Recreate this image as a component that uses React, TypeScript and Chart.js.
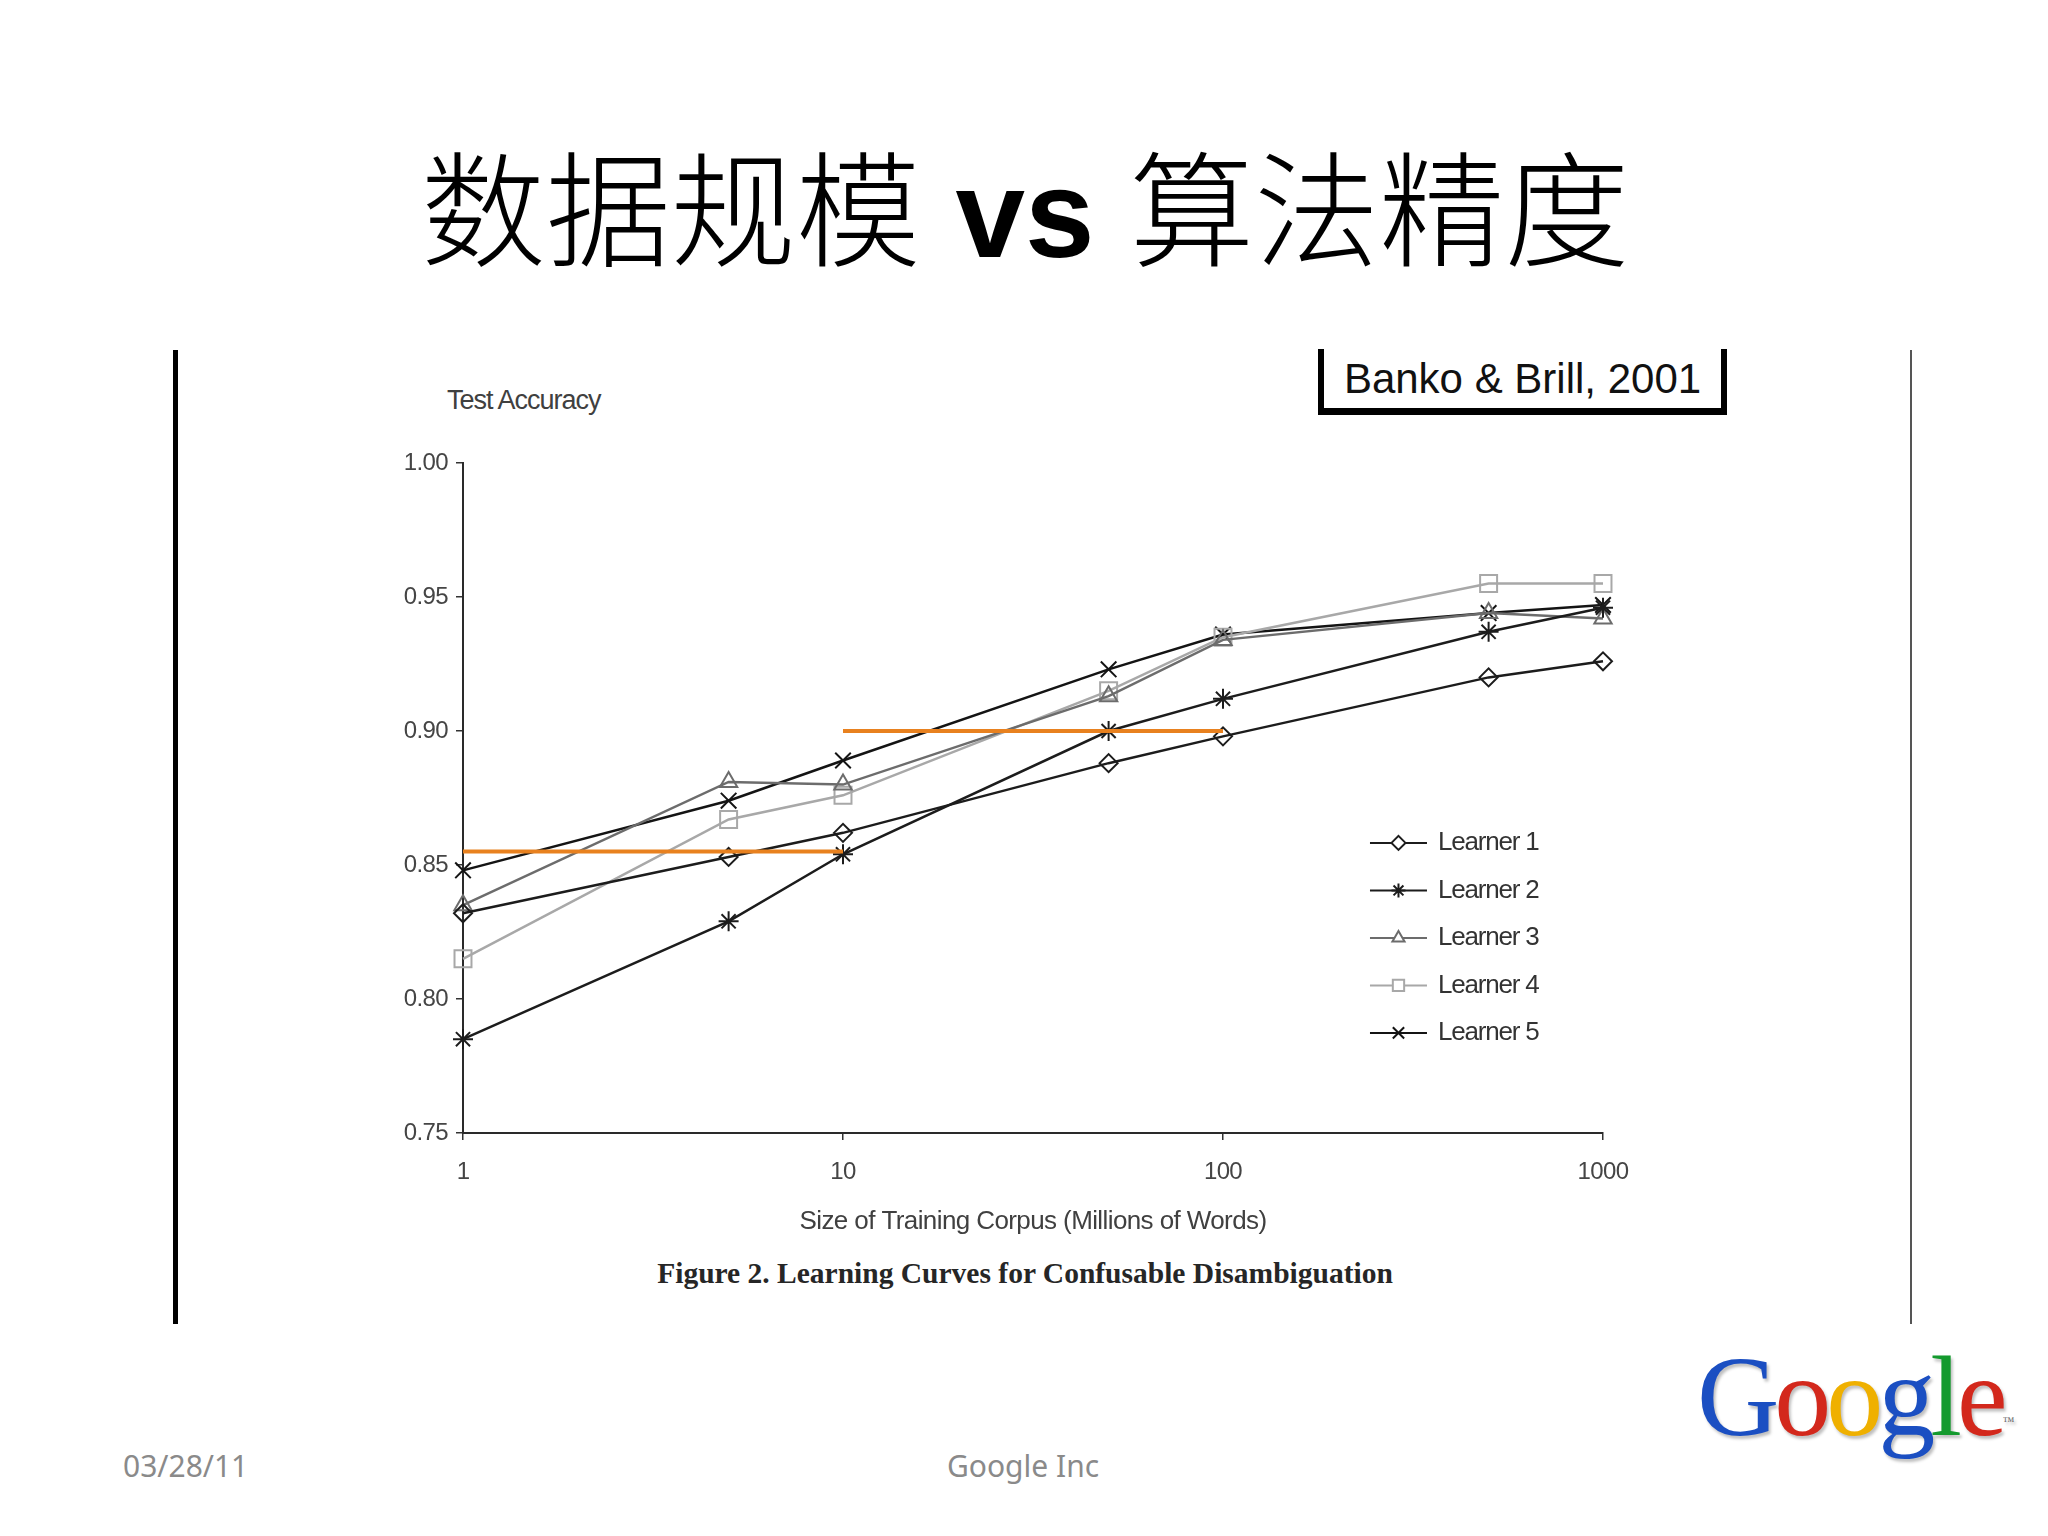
import React, { useEffect, useRef } from "react";
import { Chart, registerables } from "chart.js";
import { drawPoint } from "chart.js/helpers";

Chart.register(...registerables);

// ---- data ----
const corpusSizes = [1, 5, 10, 50, 100, 500, 1000];
const learner1 = [0.832, 0.853, 0.862, 0.888, 0.898, 0.92, 0.926];
const learner2 = [0.785, 0.829, 0.854, 0.9, 0.912, 0.937, 0.946];
const learner3 = [0.835, 0.881, 0.88, 0.913, 0.934, 0.944, 0.942];
const learner4 = [0.815, 0.867, 0.876, 0.915, 0.935, 0.955, 0.955];
const learner5 = [0.848, 0.874, 0.889, 0.923, 0.936, 0.944, 0.947];
const seriesNames = ["Learner 1", "Learner 2", "Learner 3", "Learner 4", "Learner 5"];
const xTickValues = [1, 10, 100, 1000];
const yMin = 0.75;
const yMax = 1.0;
const yStep = 0.05;
const refLowX = [1, 10];
const refLowY = [0.855, 0.855];
const refHighX = [10, 100];
const refHighY = [0.9, 0.9];

const yAxisTitle = "Test Accuracy";
const xAxisTitle = "Size of Training Corpus (Millions of Words)";
const captionText = "Figure 2. Learning Curves for Confusable Disambiguation";
const citationText = "Banko & Brill, 2001";
const footerDate = "03/28/11";
const footerCenter = "Google Inc";

const toPoints = (xs: number[], ys: number[]) => xs.map((x, i) => ({ x, y: ys[i] }));

const learnerStyles = [
  { color: "#1c1c1c", pointStyle: "rectRot", radius: 9, legendRadius: 7 },
  { color: "#1c1c1c", pointStyle: "star", radius: 10, legendRadius: 7 },
  { color: "#6c6c6c", pointStyle: "triangle", radius: 10, legendRadius: 7 },
  { color: "#a8a8a8", pointStyle: "rect", radius: 12, legendRadius: 8 },
  { color: "#141414", pointStyle: "crossRot", radius: 11, legendRadius: 8 },
];

const legendPlugin = {
  id: "learnerLegend",
  beforeDraw(chart: any) {
    chart.ctx.letterSpacing = "-0.6px";
  },
  afterDatasetsDraw(chart: any) {
    const { ctx, chartArea: a } = chart;
    const w = a.right - a.left;
    const h = a.bottom - a.top;
    const lx = a.left + 0.7956 * w;
    const lineLen = 57;
    const top = a.top + 0.567 * h;
    const step = 0.0709 * h;
    ctx.save();
    chart.data.datasets.forEach((ds: any) => {
      if (ds.legendRow === undefined) return;
      const y = top + ds.legendRow * step;
      ctx.strokeStyle = ds.borderColor;
      ctx.lineWidth = 2;
      ctx.beginPath();
      ctx.moveTo(lx, y);
      ctx.lineTo(lx + lineLen, y);
      ctx.stroke();
      ctx.fillStyle = "#ffffff";
      ctx.strokeStyle = ds.borderColor;
      ctx.lineWidth = 2;
      drawPoint(
        ctx,
        { pointStyle: ds.pointStyle, radius: ds.legendRadius, rotation: 0, borderWidth: 2 } as any,
        lx + lineLen / 2,
        y
      );
      ctx.fillStyle = "#333333";
      ctx.font = '26px "Liberation Sans"';
      ctx.letterSpacing = "-1.2px";
      ctx.textBaseline = "middle";
      ctx.textAlign = "left";
      ctx.fillText(ds.label, lx + lineLen + 11, y);
    });
    ctx.restore();
  },
};

function LearningChart() {
  const ref = useRef<HTMLCanvasElement>(null);
  useEffect(() => {
    if (!ref.current) return;
    const learners = [learner1, learner2, learner3, learner4, learner5];
    const datasets: any[] = [
      {
        label: "ref-low",
        data: toPoints(refLowX, refLowY),
        borderColor: "#e8811f",
        borderWidth: 4,
        pointRadius: 0,
        clip: false,
      },
      {
        label: "ref-high",
        data: toPoints(refHighX, refHighY),
        borderColor: "#e8811f",
        borderWidth: 4,
        pointRadius: 0,
        clip: false,
      },
    ];
    learners.forEach((vals, i) => {
      const st = learnerStyles[i];
      datasets.push({
        label: seriesNames[i],
        legendRow: i,
        legendRadius: st.legendRadius,
        data: toPoints(corpusSizes, vals),
        borderColor: st.color,
        borderWidth: 2.5,
        pointStyle: st.pointStyle,
        pointRadius: st.radius,
        pointBorderColor: st.color,
        pointBackgroundColor: "rgba(255,255,255,0)",
        pointBorderWidth: 2,
        tension: 0,
        clip: false,
      });
    });
    const chart = new Chart(ref.current, {
      type: "line",
      data: { datasets },
      plugins: [legendPlugin],
      options: {
        animation: false,
        responsive: true,
        maintainAspectRatio: false,
        layout: { padding: { top: 23, right: 60, bottom: 0, left: 0 } },
        plugins: { legend: { display: false }, tooltip: { enabled: false } },
        scales: {
          x: {
            type: "logarithmic",
            min: 1,
            max: 1000,
            afterBuildTicks: (scale: any) => {
              scale.ticks = xTickValues.map((v) => ({ value: v }));
            },
            afterFit: (scale: any) => {
              scale.height = 117;
            },
            ticks: {
              callback: (v: any) => String(v),
              color: "#454545",
              font: { family: "Liberation Sans", size: 24 },
              padding: 18,
              maxRotation: 0,
              autoSkip: false,
            },
            grid: { drawOnChartArea: false, drawTicks: true, tickLength: 7, color: "#333", lineWidth: 1.5 },
            border: { display: true, color: "#2a2a2a", width: 2 },
            title: {
              display: true,
              text: xAxisTitle,
              color: "#404040",
              font: { family: "Liberation Sans", size: 26 },
              padding: { top: 0, bottom: 13 },
            },
          },
          y: {
            type: "linear",
            min: yMin,
            max: yMax,
            afterFit: (scale: any) => {
              scale.width = 100;
            },
            ticks: {
              stepSize: yStep,
              callback: (v: any) => Number(v).toFixed(2),
              color: "#454545",
              font: { family: "Liberation Sans", size: 24 },
              padding: 8,
            },
            grid: { drawOnChartArea: false, drawTicks: true, tickLength: 7, color: "#333", lineWidth: 1.5 },
            border: { display: true, color: "#2a2a2a", width: 2 },
          },
        },
      } as any,
    });
    return () => chart.destroy();
  }, []);
  return (
    <div style={{ position: "absolute", left: 363, top: 440, width: 1300, height: 810 }}>
      <canvas ref={ref} />
    </div>
  );
}

const googleLetters = [
  { ch: "G", color: "#1b4fc2" },
  { ch: "o", color: "#d3281c" },
  { ch: "o", color: "#efb000" },
  { ch: "g", color: "#1b4fc2" },
  { ch: "l", color: "#149a2e" },
  { ch: "e", color: "#d3281c" },
];

export default function App() {
  return (
    <div
      style={{
        position: "absolute",
        left: 0,
        top: 0,
        width: 2048,
        height: 1536,
        background: "#ffffff",
        overflow: "hidden",
        fontFamily: '"Liberation Sans", Arial, sans-serif',
      }}
    >
      {/* slide title */}
      <div
        style={{
          position: "absolute",
          left: 0,
          top: 140,
          width: 2050,
          textAlign: "center",
          fontSize: 125,
          lineHeight: "125px",
          color: "#000",
          fontFamily: '"Noto Sans CJK SC", sans-serif',
          fontWeight: 300,
          whiteSpace: "nowrap",
        }}
      >
        数据规模
        <span style={{ fontFamily: '"Liberation Sans", Arial', fontWeight: 700 }}> vs </span>
        算法精度
      </div>

      {/* vertical frame lines */}
      <div style={{ position: "absolute", left: 173, top: 350, width: 5, height: 974, background: "#000" }} />
      <div style={{ position: "absolute", left: 1910, top: 350, width: 2, height: 974, background: "#555" }} />

      {/* citation box */}
      <div
        style={{
          position: "absolute",
          left: 1318,
          top: 349,
          width: 397,
          height: 59,
          borderLeft: "6px solid #000",
          borderRight: "6px solid #000",
          borderBottom: "7px solid #000",
          textAlign: "center",
          fontSize: 42,
          lineHeight: "60px",
          color: "#111",
          whiteSpace: "nowrap",
        }}
      >
        {citationText}
      </div>

      {/* y-axis title */}
      <div
        style={{
          position: "absolute",
          left: 447,
          top: 385,
          fontSize: 27,
          lineHeight: "30px",
          color: "#404040",
          letterSpacing: "-1px",
          whiteSpace: "nowrap",
        }}
      >
        {yAxisTitle}
      </div>

      <LearningChart />

      {/* figure caption */}
      <div
        style={{
          position: "absolute",
          left: 0,
          top: 1255,
          width: 2050,
          textAlign: "center",
          fontSize: 29.5,
          lineHeight: "36px",
          fontWeight: 700,
          fontFamily: '"Liberation Serif", serif',
          color: "#262626",
          whiteSpace: "nowrap",
        }}
      >
        {captionText}
      </div>

      {/* footer */}
      <div
        style={{
          position: "absolute",
          left: 123,
          top: 1446,
          fontSize: 30,
          lineHeight: "40px",
          color: "#8a8a8a",
          fontFamily: '"Noto Sans", sans-serif',
          whiteSpace: "nowrap",
        }}
      >
        {footerDate}
      </div>
      <div
        style={{
          position: "absolute",
          left: 823,
          top: 1446,
          width: 400,
          textAlign: "center",
          fontSize: 30,
          lineHeight: "40px",
          color: "#8a8a8a",
          fontFamily: '"Noto Sans", sans-serif',
          whiteSpace: "nowrap",
        }}
      >
        {footerCenter}
      </div>

      {/* Google wordmark */}
      <div
        style={{
          position: "absolute",
          left: 1697,
          top: 1332,
          fontSize: 114,
          lineHeight: "130px",
          fontFamily: '"Liberation Serif", serif',
          letterSpacing: "-5px",
          whiteSpace: "nowrap",
          textShadow: "2px 3px 3px rgba(0,0,0,0.25)",
        }}
      >
        {googleLetters.map((l, i) => (
          <span key={i} style={{ color: l.color }}>
            {l.ch}
          </span>
        ))}
        <span style={{ fontSize: 12, verticalAlign: "top", color: "#666", letterSpacing: 0, position: "relative", top: 24 }}>™</span>
      </div>
    </div>
  );
}
